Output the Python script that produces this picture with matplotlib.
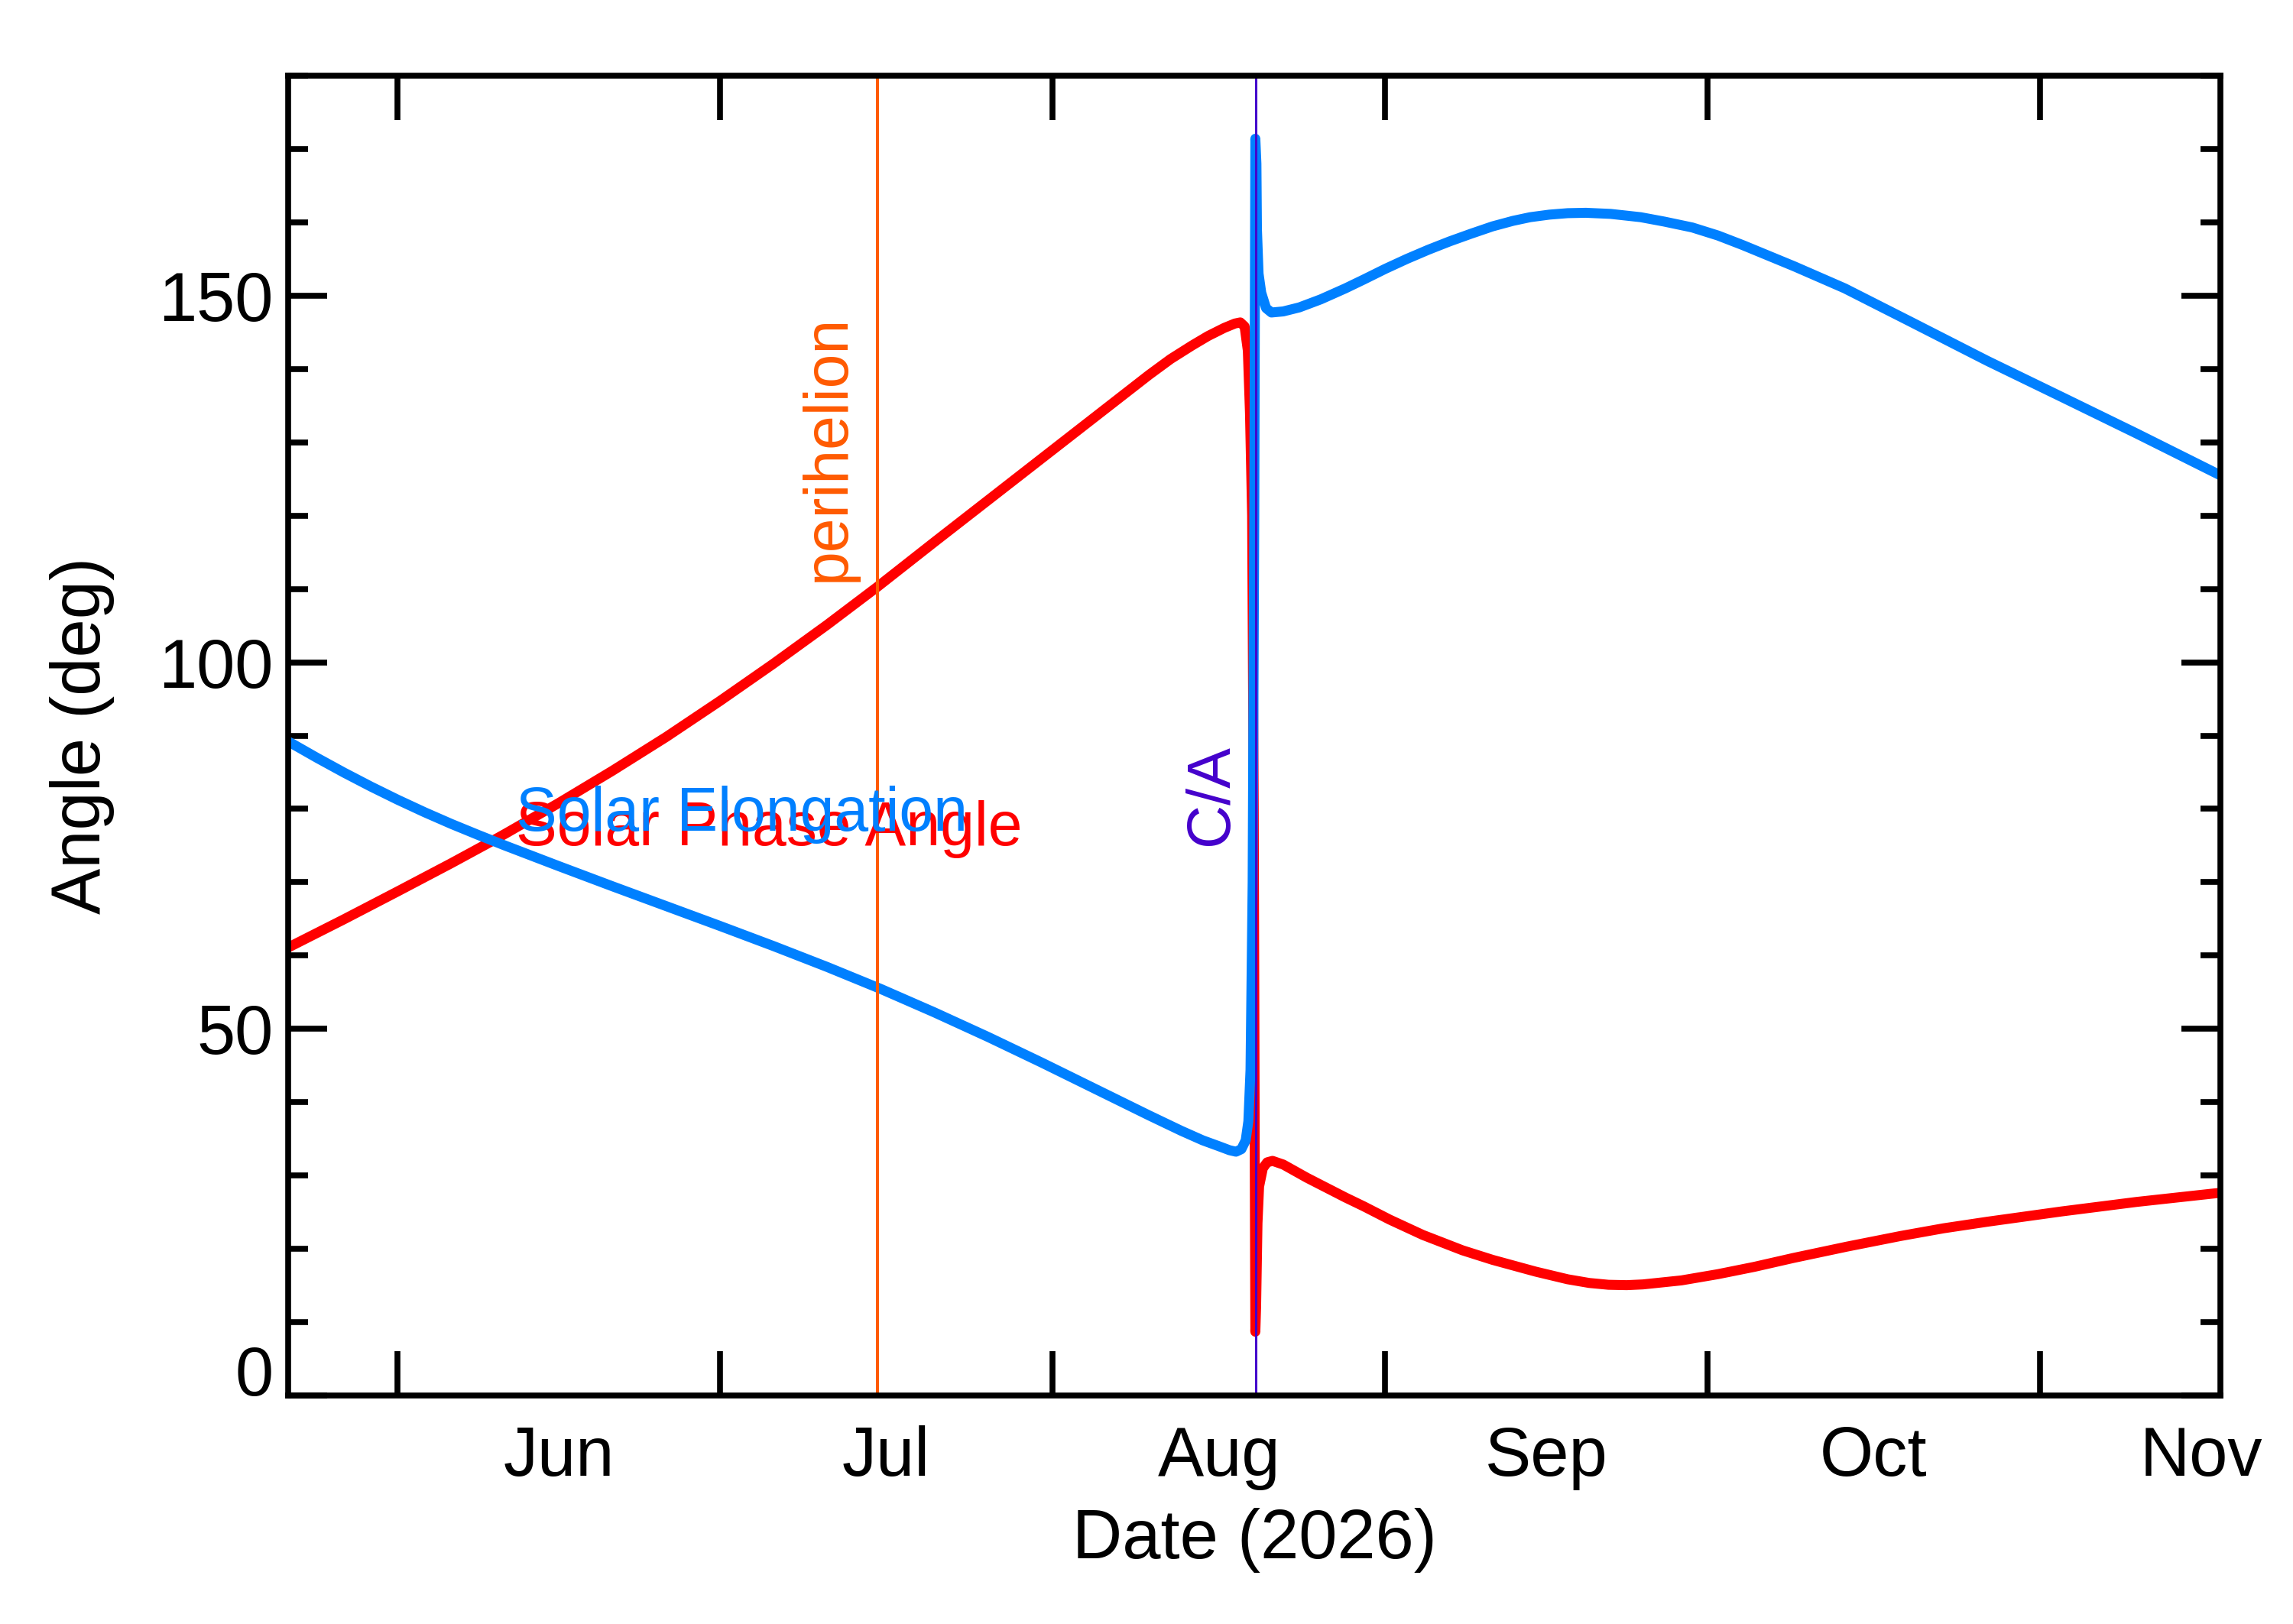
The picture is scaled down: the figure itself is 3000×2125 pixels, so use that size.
import numpy as np
import matplotlib
matplotlib.use('Agg')
import matplotlib.pyplot as plt
import matplotlib.dates as mdates
from matplotlib.ticker import FixedLocator, MultipleLocator

plt.rcParams['font.family'] = ['Liberation Sans', 'DejaVu Sans']

# days counted from 2026-06-01 00:00
base = np.datetime64('2026-06-01T00:00')
x_start, x_end = -10.2, 169.8

# Solar Phase Angle (red)
phase_day = [-10.2, -5, 0, 5, 8.9, 10, 15, 20, 25, 30, 35, 40, 44.7, 50, 55, 60, 65,
             70, 72, 74, 75.5, 77, 78, 78.5, 78.9, 79.2, 79.4, 79.6, 79.75, 79.85,
             79.9, 79.97, 80.1, 80.25, 80.6, 81.0, 81.5, 82.5, 84.7, 88.3, 90, 92.4,
             95.5, 99.2, 102, 106, 109, 111, 112.8, 114.5, 116, 119.6, 123, 126.4, 130,
             135, 140, 144, 148.1, 155, 162, 169.8]
phase_val = [61.1, 64.95, 68.75, 72.6, 75.7, 76.6, 80.8, 85.2, 89.8, 94.7, 99.8, 105.1,
             110.3, 116.4, 122.1, 127.8, 133.5, 139.2, 141.35, 143.2, 144.5, 145.6,
             146.2, 146.35, 145.8, 142.5, 134.0, 120.0, 80.0, 30.0, 8.7, 12.0, 23.5,
             28.5, 31.0, 31.8, 32.0, 31.5, 29.7, 27.0, 25.8, 24.0, 21.9, 19.8, 18.5,
             16.9, 15.85, 15.35, 15.1, 15.05, 15.15, 15.7, 16.55, 17.55, 18.75, 20.3,
             21.75, 22.8, 23.7, 25.1, 26.4, 27.65]

# Solar Elongation (blue)
elong_day = [-10.2, -7.5, -5, -2.5, 0, 2.5, 5, 7.5, 10, 15, 20, 25, 30, 35, 40, 45, 50,
             55, 60, 65, 70, 73, 75, 76.5, 77.5, 78.1, 78.6, 79.0, 79.25, 79.45, 79.65,
             79.8, 79.9, 80.0, 80.05, 80.2, 80.45, 80.9, 81.4, 82.5, 84, 86, 88.3, 90,
             92, 94, 96, 98, 100, 102, 103.9, 105.5, 107.3, 109, 110.7, 113, 115.8, 118,
             120.6, 123, 125.3, 130.1, 134.8, 141.0, 148.1, 155, 162, 169.8]
elong_val = [89.2, 86.95, 84.95, 83.05, 81.25, 79.55, 77.95, 76.45, 75.0, 72.2, 69.45,
             66.75, 64.05, 61.3, 58.45, 55.45, 52.25, 48.9, 45.4, 41.8, 38.2, 36.1, 34.8,
             34.0, 33.45, 33.25, 33.6, 34.8, 37.4, 44.4, 70.0, 120.0, 171.4, 168.0,
             159.0, 153.0, 150.4, 148.3, 147.7, 147.85, 148.4, 149.5, 151.0, 152.2,
             153.65, 155.0, 156.25, 157.4, 158.45, 159.45, 160.2, 160.7, 161.05, 161.25,
             161.3, 161.15, 160.7, 160.1, 159.3, 158.2, 156.9, 154.0, 151.0, 146.4,
             141.1, 136.2, 131.2, 125.5]

perihelion_day = 44.7
ca_day = 79.95

months = ['2026-06-01', '2026-07-01', '2026-08-01', '2026-09-01', '2026-10-01',
          '2026-11-01', '2026-12-01']


def to_date(days):
    secs = np.round(np.asarray(days, dtype=float) * 86400).astype('timedelta64[s]')
    return base + secs


red = '#FF0000'
blue = '#0080FF'
orange = '#FF5A00'
purple = '#4400CC'

fig = plt.figure(figsize=(15, 10.625), dpi=200)
ax = fig.add_axes([0.1257, 0.1407, 0.9683 - 0.1257, 0.9534 - 0.1407])

ax.plot(to_date(phase_day), phase_val, color=red, lw=4.7,
        solid_capstyle='butt', solid_joinstyle='round')
ax.plot(to_date(elong_day), elong_val, color=blue, lw=4.7,
        solid_capstyle='butt', solid_joinstyle='round')

ax.axvline(to_date(perihelion_day), color=orange, lw=1.45)
ax.axvline(to_date(ca_day), color=purple, lw=1.1)

ax.text(to_date(41.6), 111.0, 'perihelion', color=orange, fontsize=29,
        rotation=90, rotation_mode='anchor', ha='left', va='baseline')
ax.text(to_date(77.3), 75.0, 'C/A', color=purple, fontsize=28.5,
        rotation=90, rotation_mode='anchor', ha='left', va='baseline')
ax.text(to_date(11.0), 75.0, 'Solar Phase Angle', color=red, fontsize=29,
        ha='left', va='baseline')
ax.text(to_date(11.0), 77.0, 'Solar Elongation', color=blue, fontsize=29,
        ha='left', va='baseline')

ax.set_xlim(to_date(x_start), to_date(x_end))
ax.set_ylim(0, 180)

# month starts carry ticks, mid-month carries the names
starts = np.array(months, dtype='datetime64[s]')
mids = starts[:-1] + (starts[1:] - starts[:-1]) / 2
ax.xaxis.set_major_locator(FixedLocator(mdates.date2num(starts)))
ax.xaxis.set_major_formatter(plt.NullFormatter())
ax.xaxis.set_minor_locator(FixedLocator(mdates.date2num(mids)))
ax.xaxis.set_minor_formatter(mdates.DateFormatter('%b'))

ax.yaxis.set_major_locator(FixedLocator([0, 50, 100, 150]))
ax.yaxis.set_minor_locator(MultipleLocator(10))

ax.tick_params(axis='x', which='major', direction='in', length=20.8, width=2.75,
               top=True, bottom=True)
ax.tick_params(axis='x', which='minor', length=0, pad=14, labelsize=32.5)
ax.tick_params(axis='y', which='major', direction='in', length=18.4, width=2.75,
               left=True, right=True, pad=7, labelsize=32.5)
ax.tick_params(axis='y', which='minor', direction='in', length=9.2, width=2.75,
               left=True, right=True)

for s in ax.spines.values():
    s.set_linewidth(2.75)

ax.yaxis.get_major_ticks()[0].label1.set_va('baseline')

ax.set_ylabel('Angle (deg)', fontsize=32.5)
ax.set_xlabel('Date (2026)', fontsize=32.5)
ax.yaxis.set_label_coords(-0.09, 0.5)
ax.xaxis.set_label_coords(0.5, -0.085)

fig.savefig('out.png', dpi=200)
